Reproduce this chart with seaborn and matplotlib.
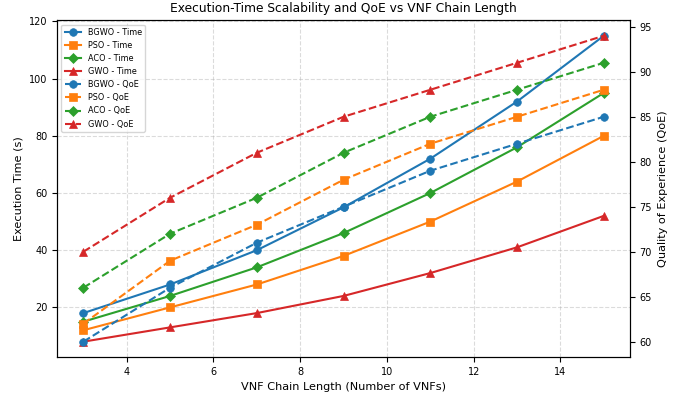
import matplotlib
matplotlib.use("Agg")
import matplotlib.pyplot as plt
import seaborn as sns
import pandas as pd

chain_lengths = [3, 5, 7, 9, 11, 13, 15]
algorithms = ["BGWO", "PSO", "ACO", "GWO"]
time_bgwo = [18, 28, 40, 55, 72, 92, 115]
time_pso = [12, 20, 28, 38, 50, 64, 80]
time_aco = [15, 24, 34, 46, 60, 76, 95]
time_gwo = [8, 13, 18, 24, 32, 41, 52]
qoe_bgwo = [60, 66, 71, 75, 79, 82, 85]
qoe_pso = [62, 69, 73, 78, 82, 85, 88]
qoe_aco = [66, 72, 76, 81, 85, 88, 91]
qoe_gwo = [70, 76, 81, 85, 88, 91, 94]

times = [time_bgwo, time_pso, time_aco, time_gwo]
qoes = [qoe_bgwo, qoe_pso, qoe_aco, qoe_gwo]
colors = ["#1f77b4", "#ff7f0e", "#2ca02c", "#d62728"]
markers = ["o", "s", "D", "^"]

plt.rcParams["font.family"] = ["DejaVu Sans"]
fig, ax = plt.subplots(figsize=(6.75, 3.94), dpi=100)
ax2 = ax.twinx()

handles = []
labels = []
for alg, t, c, m in zip(algorithms, times, colors, markers):
    df = pd.DataFrame({"x": chain_lengths, "y": t})
    sns.lineplot(data=df, x="x", y="y", ax=ax, color=c, marker=m,
                 markersize=5.5, linewidth=1.5, markeredgewidth=0.5,
                 markeredgecolor=c, legend=False)
    handles.append(ax.lines[-1])
    labels.append(f"{alg} - Time")
for alg, q, c, m in zip(algorithms, qoes, colors, markers):
    df = pd.DataFrame({"x": chain_lengths, "y": q})
    sns.lineplot(data=df, x="x", y="y", ax=ax2, color=c, marker=m,
                 markersize=5.5, linewidth=1.5, markeredgewidth=0.5,
                 markeredgecolor=c, linestyle="--", legend=False)
    handles.append(ax2.lines[-1])
    labels.append(f"{alg} - QoE")

ax.set_xlabel("VNF Chain Length (Number of VNFs)", fontsize=8.1)
ax.set_ylabel("Execution Time (s)", fontsize=8.1)
ax2.set_ylabel("Quality of Experience (QoE)", fontsize=8.1)
ax.set_title("Execution-Time Scalability and QoE vs VNF Chain Length", fontsize=8.8)
ax.tick_params(labelsize=7)
ax2.tick_params(labelsize=7)
ax.grid(True, linestyle="--", alpha=0.45)
ax.legend(handles, labels, loc="upper left", fontsize=5.9)

fig.subplots_adjust(left=0.085, right=0.933, top=0.948, bottom=0.094)
fig.savefig("out.png", dpi=100)
